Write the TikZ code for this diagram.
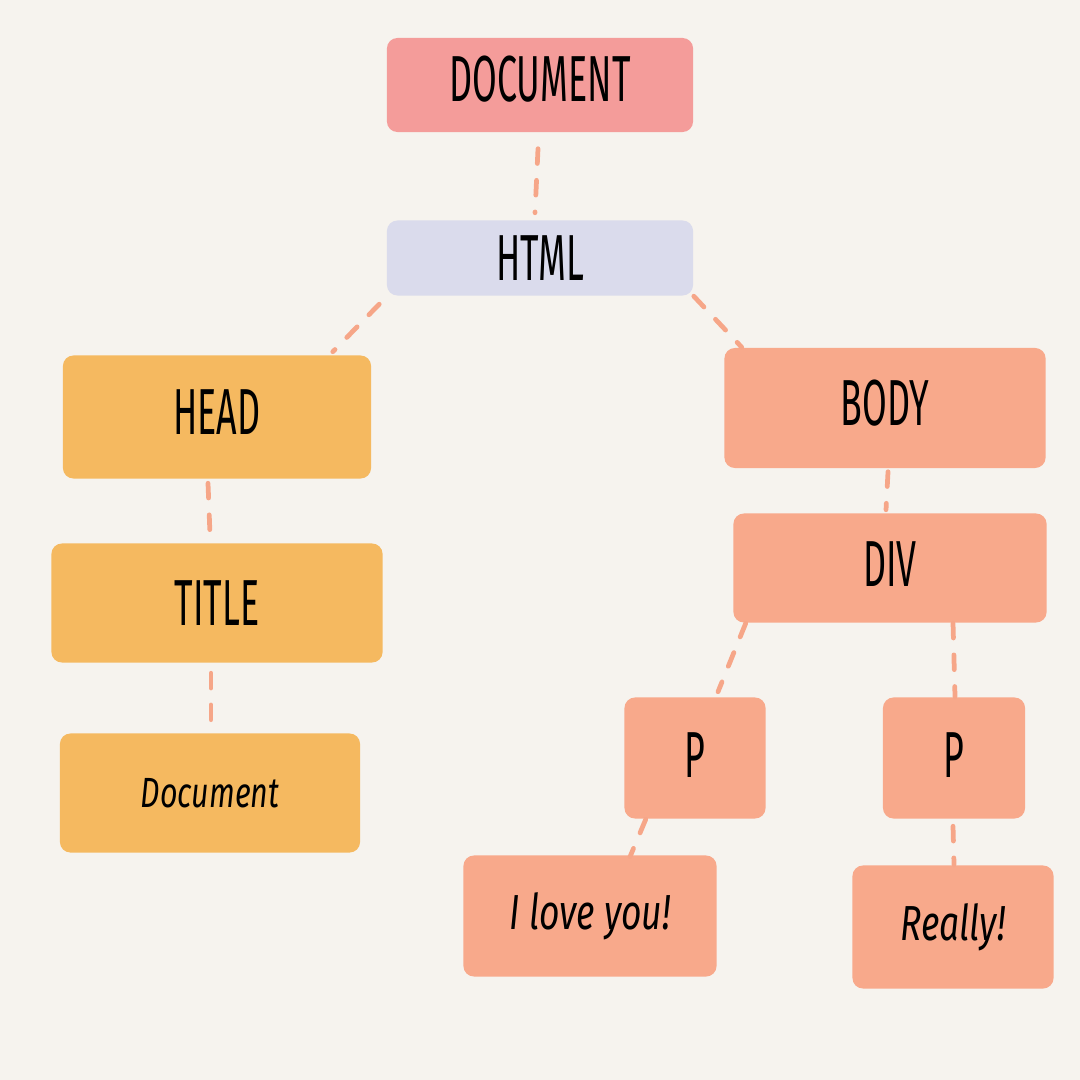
\documentclass[tikz,border=0pt]{standalone}
\usepackage{fontspec}
\usepackage{tikz}
\setmainfont{Fira Sans}
\newfontfamily\capsfont{Fira Sans}[FakeStretch=0.55]
\newfontfamily\handfont{Fira Sans}[FakeStretch=0.72]
\definecolor{bgcol}{HTML}{F6F3EE}
\definecolor{mpink}{HTML}{F49C9A}
\definecolor{mlav}{HTML}{DADBEC}
\definecolor{morange}{HTML}{F5B960}
\definecolor{msalmon}{HTML}{F8A98B}
\definecolor{mdash}{HTML}{F6A688}
\tikzset{x = 0.01cm, y = -0.01cm}
\tikzset{tag/.style = {rounded corners = 3pt, inner sep = 0, font = \capsfont\fontsize{18.5}{20}\selectfont}}
\tikzset{leaf/.style = {rounded corners = 3pt, inner sep = 0, font = \handfont\itshape\fontsize{14}{16}\selectfont}}
\tikzset{link/.style = {mdash, line width = 1.35pt, line cap = round, dash pattern = on 4.2pt off 4.8pt}}

\begin{document}
\begin{tikzpicture}
        \fill [bgcol] (0, 0) rectangle (1080, 1080);
        % top of the tree
        \node [tag, fill = mpink, minimum width = 3.06cm, minimum height = 0.94cm, text depth = 0.12cm] (doc) at (540, 85) {DOCUMENT};
        \node [tag, fill = mlav, minimum width = 3.06cm, minimum height = 0.75cm] (html) at (540, 258) {HTML};
        % left branch
        \node [tag, fill = morange, minimum width = 3.08cm, minimum height = 1.23cm, text depth = 0.1cm] (head) at (217, 417) {HEAD};
        \node [tag, fill = morange, minimum width = 3.31cm, minimum height = 1.19cm] (title) at (217, 603) {TITLE};
        \node [leaf, fill = morange, minimum width = 3.00cm, minimum height = 1.19cm, font = \handfont\itshape\fontsize{12}{14}\selectfont] (doctext) at (210, 793) {Document};
        % right branch
        \node [tag, fill = msalmon, minimum width = 3.21cm, minimum height = 1.20cm, text depth = 0.1cm] (body) at (885, 408) {BODY};
        \node [tag, fill = msalmon, minimum width = 3.13cm, minimum height = 1.09cm, text depth = 0.08cm] (div) at (890, 568) {DIV};
        \node [tag, fill = msalmon, minimum width = 1.41cm, minimum height = 1.21cm, text depth = 0.06cm] (pa) at (695, 758) {P};
        \node [tag, fill = msalmon, minimum width = 1.42cm, minimum height = 1.21cm, text depth = 0.06cm] (pb) at (954, 758) {P};
        \node [leaf, fill = msalmon, minimum width = 2.53cm, minimum height = 1.21cm] (love) at (590, 916) {I love you!};
        \node [leaf, fill = msalmon, minimum width = 2.01cm, minimum height = 1.23cm] (really) at (953, 927) {Really!};
        % dashed links
        \draw [link] ([shift = {(-2, 16)}]doc.south) -- ([shift = {(-5, -7)}]html.north);
        \draw [link] ([shift = {(-7, 8)}]html.south west) -- ([shift = {(-39, -3)}]head.north east);
        \draw [link] ([shift = {(0, 0)}]html.south east) -- ([shift = {(18, 0)}]body.north west);
        \draw [link] ([shift = {(-9, 4)}]head.south) -- ([shift = {(-7, -8)}]title.north);
        \draw [link] ([shift = {(-6, 10)}]title.south) -- ([shift = {(1, -8)}]doctext.north);
        \draw [link] ([shift = {(3, 3)}]body.south) -- ([shift = {(-4, -3)}]div.north);
        \draw [link] ([shift = {(13, 0)}]div.south west) -- ([shift = {(23, -5)}]pa.north);
        \draw [link] ([shift = {(63, 0)}]div.south) -- ([shift = {(1, 0)}]pb.north);
        \draw [link] ([shift = {(22, 0)}]pa.south west) -- ([shift = {(40, 2)}]love.north);
        \draw [link] ([shift = {(-1, 7)}]pb.south) -- ([shift = {(1, 0)}]really.north);
\end{tikzpicture}
\end{document}
